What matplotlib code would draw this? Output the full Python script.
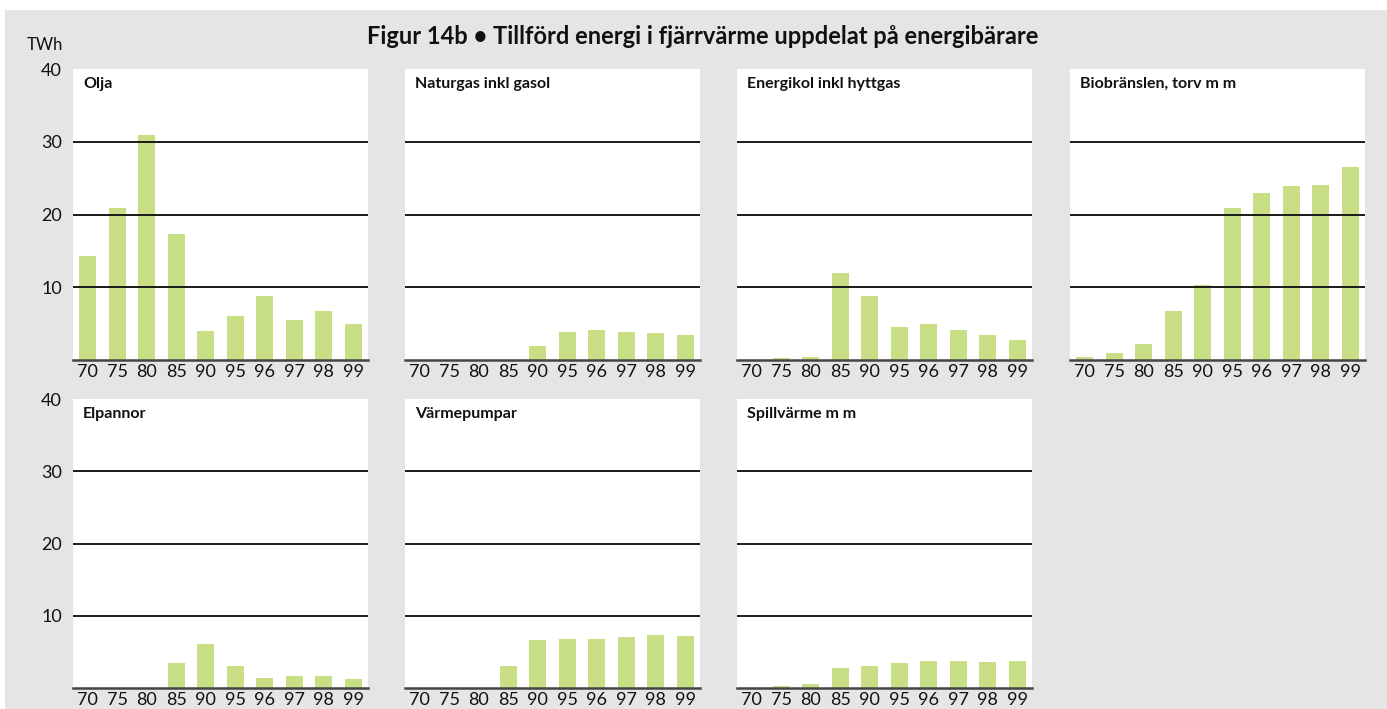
import matplotlib
matplotlib.use("Agg")
import matplotlib.pyplot as plt
from matplotlib.patches import Rectangle

years = ["70", "75", "80", "85", "90", "95", "96", "97", "98", "99"]

olja = [14.3, 20.9, 30.9, 17.3, 4.0, 6.0, 8.8, 5.5, 6.7, 5.0]
naturgas = [0, 0, 0, 0, 1.9, 3.8, 4.1, 3.8, 3.65, 3.5]
energikol = [0, 0.3, 0.45, 12.0, 8.8, 4.5, 4.9, 4.1, 3.4, 2.8]
bio = [0.35, 1.0, 2.25, 6.7, 10.3, 20.9, 22.9, 23.9, 24.1, 26.5]
elpannor = [0, 0, 0, 3.5, 6.1, 3.1, 1.4, 1.7, 1.7, 1.3]
varmepumpar = [0, 0, 0, 3.0, 6.6, 6.8, 6.8, 7.05, 7.3, 7.2]
spillvarme = [0, 0.25, 0.6, 2.75, 3.0, 3.45, 3.7, 3.7, 3.6, 3.7]

panel_titles = ["Olja", "Naturgas inkl gasol", "Energikol inkl hyttgas",
                "Biobränslen, torv m m", "Elpannor", "Värmepumpar", "Spillvärme m m"]
panel_values = [olja, naturgas, energikol, bio, elpannor, varmepumpar, spillvarme]
yticks = [10, 20, 30, 40]

title = "Figur 14b • Tillförd energi i fjärrvärme uppdelat på energibärare"

W, H = 1387, 709
BG = "#e5e5e5"
BAR = "#c8df85"
FONT = ["Lato", "DejaVu Sans"]

fig = plt.figure(figsize=(W / 100, H / 100), dpi=100, facecolor="white")
fig.patches.append(Rectangle((5 / W, 0), 1 - 5 / W, 1 - 10 / H,
                             transform=fig.transFigure, facecolor=BG,
                             edgecolor="none", zorder=-10))

lefts = [73, 405, 737, 1070]
rows = [(69, 360), (399, 688)]
pw = 295

for i, (name, vals) in enumerate(zip(panel_titles, panel_values)):
    r = 0 if i < 4 else 1
    c = i if i < 4 else i - 4
    top, base = rows[r]
    ax = fig.add_axes([lefts[c] / W, (H - base) / H, pw / W, (base - top) / H])
    ax.set_facecolor("white")
    x = list(range(len(years)))
    ax.bar(x, vals, width=0.58, color=BAR, zorder=2)
    for g in [10, 20, 30]:
        ax.axhline(g, color="#1a1a1a", lw=1.4, zorder=3)
    ax.axhline(0, color="#444444", lw=1.8, zorder=4, clip_on=False)
    ax.set_xlim(-0.5, len(years) - 0.5)
    ax.set_ylim(0, 40)
    ax.set_xticks(x)
    ax.set_xticklabels(years, family=FONT, fontsize=13, color="#111111")
    ax.tick_params(axis="x", length=0, pad=3)
    if c == 0:
        ax.set_yticks(yticks)
        ax.set_yticklabels([str(v) for v in yticks], family=FONT,
                           fontsize=13, color="#111111")
        ax.tick_params(axis="y", length=0, pad=8)
    else:
        ax.set_yticks([])
    for s in ax.spines.values():
        s.set_visible(False)
    ax.text(10 / pw, 1 - 15 / (base - top), name, transform=ax.transAxes,
            ha="left", va="center", fontsize=11.5, fontweight="bold",
            family=FONT, color="#111111")

fig.text(45 / W, 1 - 45 / H, "TWh", ha="center", va="center",
         family=FONT, fontsize=12, color="#111111")
fig.text(703 / W, 1 - 36 / H, title, ha="center", va="center",
         family=FONT, fontsize=17, fontweight="bold", color="#111111")

fig.savefig("out.png", dpi=100, facecolor="white")
